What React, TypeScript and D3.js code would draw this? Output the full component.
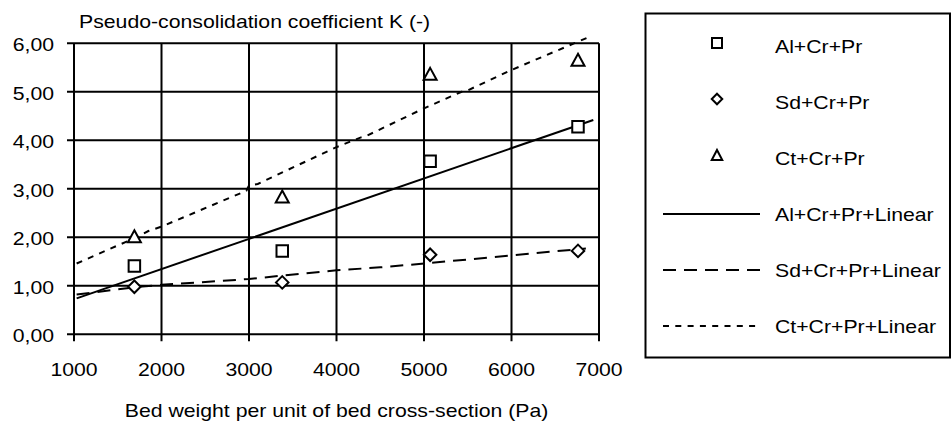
import * as d3 from "d3";

const W = 951;
const H = 421;
const FONT = "'Liberation Sans', Arial, sans-serif";
const STRETCH = 1.18;

// measured samples (bed weight, K)
const bedWeight = [1690, 3380, 5070, 6760];
const alValues = [1.41, 1.72, 3.57, 4.28];
const sdValues = [0.98, 1.07, 1.64, 1.72];
const ctValues = [2.02, 2.84, 5.37, 5.66];

// trend lines as drawn in the original
const alTrend: [number, number][] = [
  [1030, 0.74],
  [6935, 4.42],
];
const sdTrend: [number, number][] = [
  [1030, 0.82],
  [1690, 0.97],
  [2000, 1.02],
  [3000, 1.14],
  [3380, 1.21],
  [4000, 1.32],
  [4500, 1.38],
  [5070, 1.47],
  [6850, 1.77],
];
const ctTrend: [number, number][] = [
  [1030, 1.46],
  [1700, 1.99],
  [1850, 2.13],
  [2000, 2.22],
  [2970, 2.96],
  [3000, 3.07],
  [3100, 3.1],
  [4000, 3.86],
  [4280, 4.06],
  [4330, 4.08],
  [5000, 4.66],
  [5430, 5.0],
  [5500, 5.03],
  [6000, 5.45],
  [6860, 6.11],
];

const xTicks = [1000, 2000, 3000, 4000, 5000, 6000, 7000];
const yTicks = [0, 1, 2, 3, 4, 5, 6];
const yTickLabels = ["0,00", "1,00", "2,00", "3,00", "4,00", "5,00", "6,00"];

const yTitle = "Pseudo-consolidation coefficient K (-)";
const xTitle = "Bed weight per unit of bed cross-section (Pa)";

const markerNames = ["Al+Cr+Pr", "Sd+Cr+Pr", "Ct+Cr+Pr"];
const lineNames = ["Al+Cr+Pr+Linear", "Sd+Cr+Pr+Linear", "Ct+Cr+Pr+Linear"];

const PLOT = { left: 74, right: 599, top: 43.3, bottom: 334.3 };

const x = d3.scaleLinear().domain([1000, 7000]).range([PLOT.left, PLOT.right]);
const y = d3.scaleLinear().domain([0, 6]).range([PLOT.bottom, PLOT.top]);

const squarePath = (s: number) =>
  `M${-s / 2},${-s / 2}H${s / 2}V${s / 2}H${-s / 2}Z`;
const diamondPath = (w: number, h: number) =>
  `M0,${-h / 2}L${w / 2},0L0,${h / 2}L${-w / 2},0Z`;
const trianglePath = (w: number, h: number) =>
  `M0,${-h / 2}L${w / 2},${h / 2}L${-w / 2},${h / 2}Z`;

const plotShapes = [squarePath(11.5), diamondPath(12.5, 12.5), trianglePath(13, 12)];
const legendShapes = [squarePath(10), diamondPath(10.5, 10.5), trianglePath(10.5, 10)];
const dashes = [undefined, "13,8", "6,6.3"];

const Label = ({
  x,
  y,
  anchor = "start",
  children,
}: {
  x: number;
  y: number;
  anchor?: string;
  children: string;
}) => (
  <text
    transform={`translate(${x},${y}) scale(${STRETCH},1)`}
    textAnchor={anchor}
    fontSize={18}
    fontFamily={FONT}
    fill="#000"
  >
    {children}
  </text>
);

export default function App() {
  const line = d3
    .line<[number, number]>()
    .x((d) => x(d[0]))
    .y((d) => y(d[1]));

  const series = [alValues, sdValues, ctValues];
  const trends = [alTrend, sdTrend, ctTrend];

  const LEG = { left: 645.5, top: 13.5, right: 950, bottom: 357.5 };
  const rowY = (i: number) => 53 + i * 56;

  return (
    <svg
      width={W}
      height={H}
      style={{ position: "absolute", left: 0, top: 0, background: "#fff" }}
    >
      <rect width={W} height={H} fill="#fff" />

      {/* grid + ticks */}
      {yTicks.map((t) => (
        <line
          key={"gy" + t}
          x1={PLOT.left - 7}
          x2={PLOT.right}
          y1={y(t)}
          y2={y(t)}
          stroke="#000"
          strokeWidth={2}
        />
      ))}
      {xTicks.map((t) => (
        <line
          key={"gx" + t}
          x1={x(t)}
          x2={x(t)}
          y1={PLOT.top}
          y2={PLOT.bottom + 7}
          stroke="#000"
          strokeWidth={2}
        />
      ))}

      {/* tick labels */}
      {yTicks.map((t, i) => (
        <Label key={"ly" + t} x={54} y={y(t) + 8} anchor="end">
          {yTickLabels[i]}
        </Label>
      ))}
      {xTicks.map((t) => (
        <Label key={"lx" + t} x={x(t)} y={375.5} anchor="middle">
          {String(t)}
        </Label>
      ))}

      <Label x={79} y={28}>
        {yTitle}
      </Label>
      <Label x={(PLOT.left + PLOT.right) / 2} y={416.5} anchor="middle">
        {xTitle}
      </Label>

      {/* trend lines */}
      {trends.map((tr, i) => (
        <path
          key={"tr" + i}
          d={line(tr) ?? undefined}
          fill="none"
          stroke="#000"
          strokeWidth={2}
          strokeDasharray={dashes[i]}
        />
      ))}

      {/* markers */}
      {series.map((vals, i) =>
        vals.map((v, j) => (
          <path
            key={`m${i}-${j}`}
            d={plotShapes[i]}
            transform={`translate(${x(bedWeight[j])},${y(v)})`}
            fill="#fff"
            stroke="#000"
            strokeWidth={2}
          />
        ))
      )}

      {/* legend */}
      <rect
        x={LEG.left}
        y={LEG.top}
        width={LEG.right - LEG.left}
        height={LEG.bottom - LEG.top}
        fill="#fff"
        stroke="#000"
        strokeWidth={2}
      />
      {markerNames.map((name, i) => (
        <g key={name}>
          <path
            d={legendShapes[i]}
            transform={`translate(717,${rowY(i) - 10})`}
            fill="#fff"
            stroke="#000"
            strokeWidth={2}
          />
          <Label x={775} y={rowY(i)}>
            {name}
          </Label>
        </g>
      ))}
      {lineNames.map((name, i) => (
        <g key={name}>
          <line
            x1={663}
            x2={760}
            y1={rowY(i + 3) - 7}
            y2={rowY(i + 3) - 7}
            stroke="#000"
            strokeWidth={2}
            strokeDasharray={dashes[i]}
          />
          <Label x={775} y={rowY(i + 3)}>
            {name}
          </Label>
        </g>
      ))}
    </svg>
  );
}
